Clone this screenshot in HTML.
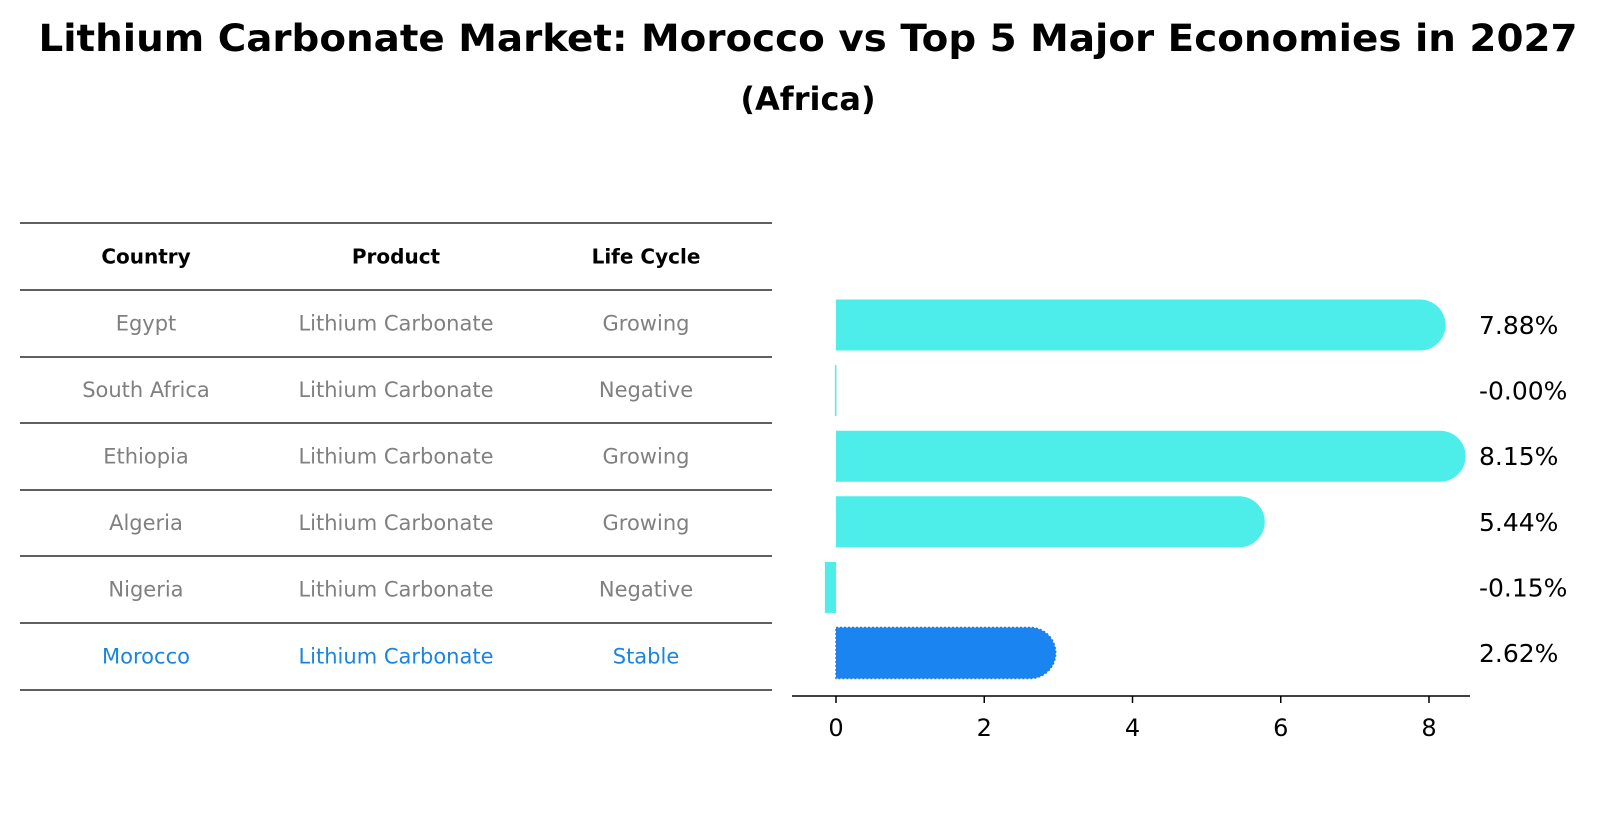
<!DOCTYPE html>
<html><head><meta charset="utf-8"><style>
body{margin:0;background:#fff}
svg{display:block;font-family:"DejaVu Sans","Liberation Sans",sans-serif}
</style></head><body>
<svg id="chart" width="1597" height="823" viewBox="0 0 1597 823" xmlns="http://www.w3.org/2000/svg">
<text x="808" y="51" text-anchor="middle" font-size="37" font-weight="bold" textLength="1539" lengthAdjust="spacingAndGlyphs">Lithium Carbonate Market: Morocco vs Top 5 Major Economies in 2027</text>
<text x="808" y="110" text-anchor="middle" font-size="32" font-weight="bold">(Africa)</text>
<g id="table"></g>
<g id="bars"></g>
</svg>
<script>
const countries=["Egypt","South Africa","Ethiopia","Algeria","Nigeria","Morocco"];
const products=["Lithium Carbonate","Lithium Carbonate","Lithium Carbonate","Lithium Carbonate","Lithium Carbonate","Lithium Carbonate"];
const lifeCycles=["Growing","Negative","Growing","Growing","Negative","Stable"];
const values=[7.88,-0.001,8.15,5.44,-0.15,2.62];
const valueLabels=["7.88%","-0.00%","8.15%","5.44%","-0.15%","2.62%"];
const xTicks=[0,2,4,6,8];

const NS="http://www.w3.org/2000/svg";
function mk(tag,attrs,parent){const e=document.createElementNS(NS,tag);for(const k in attrs)e.setAttribute(k,attrs[k]);parent.appendChild(e);return e;}
const table=document.getElementById('table');
const lineYs=[223,290,357,423,490,556,623,690];
lineYs.forEach((y,i)=>{const l=mk('line',{x1:20,x2:772,y1:y,y2:y,stroke:'#000','stroke-width':1.3},table);

});
const colX=[146,396,646];
["Country","Product","Life Cycle"].forEach((h,i)=>{const t=mk('text',{x:colX[i],y:(lineYs[0]+lineYs[1])/2+7,'text-anchor':'middle','font-size':20,'font-weight':'bold'},table);t.textContent=h;

});
countries.forEach((c,r)=>{const y=(lineYs[r+1]+lineYs[r+2])/2+7;const col=c==="Morocco"?'#1a85e0':'#808080';
[c,products[r],lifeCycles[r]].forEach((v,i)=>{const t=mk('text',{x:colX[i],y:y,'text-anchor':'middle','font-size':21,fill:col},table);t.textContent=v;

});});

const bars=document.getElementById('bars');
const x0=836,scale=(1429-836)/8;
const xs=v=>x0+v*scale;
const yc=i=>325+i*65.6;
const bh=51,r=25.5;
const ax=mk('line',{x1:792,x2:1470,y1:696,y2:696,stroke:'#000','stroke-width':1.5},bars);


xTicks.forEach(v=>{const tk=mk('line',{x1:xs(v),x2:xs(v),y1:696,y2:703,stroke:'#000','stroke-width':1.5},bars);


const t=mk('text',{x:xs(v),y:736,'text-anchor':'middle','font-size':24},bars);t.textContent=v;

});
values.forEach((v,i)=>{const isM=countries[i]==="Morocco";const col=isM?'#1a85f0':'#4deeea';const top=yc(i)-bh/2;let el;
if(v>0){const xe=xs(v);el=mk('path',{d:`M${x0} ${top} H${xe} A${r} ${r} 0 0 1 ${xe} ${top+bh} H${x0} Z`,fill:col},bars);
if(isM){el.setAttribute('stroke','#2a78d8');el.setAttribute('stroke-dasharray','2 2');el.setAttribute('stroke-width','1.5');}}
else{const xe=xs(v);el=mk('rect',{x:Math.min(xe,x0)-(Math.abs(v)<0.01?1:0),y:top,width:Math.max(Math.abs(xe-x0),1.5),height:bh,fill:col},bars);}


const t=mk('text',{x:1479,y:yc(i)+9,'font-size':25},bars);t.textContent=valueLabels[i];

});
</script>
</body></html>
